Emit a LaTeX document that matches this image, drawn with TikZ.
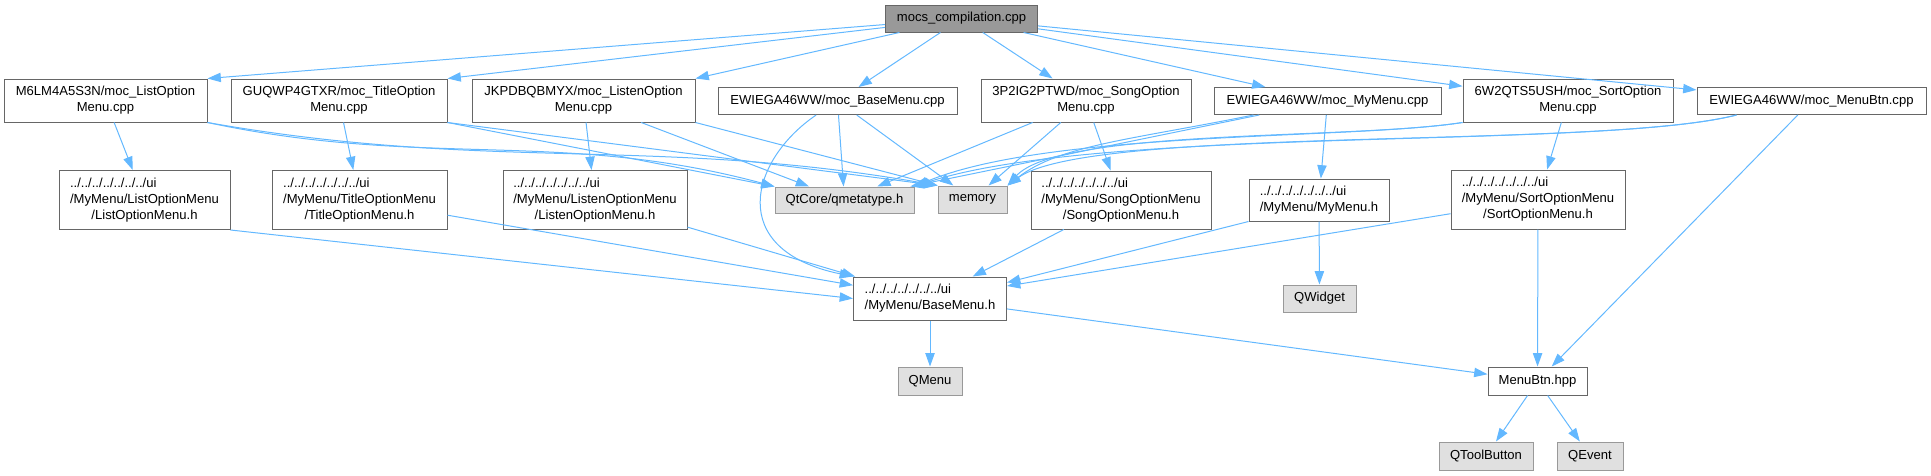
\documentclass[tikz,border=0pt]{standalone}
\usepackage{fontspec}
\setmainfont{Liberation Sans}
\usepackage{tikz}
\usetikzlibrary{arrows.meta}
\definecolor{edgeblue}{HTML}{63B8FF}
\definecolor{boxline}{HTML}{666666}
\definecolor{rootfill}{HTML}{999999}
\definecolor{extline}{HTML}{999999}
\definecolor{extfill}{HTML}{E0E0E0}
\newcommand{\hpath}[3]{\begin{tabular}{@{}l@{}}#1\\#2\\\multicolumn{1}{@{}c@{}}{#3}\end{tabular}}
\newcommand{\hpathshort}[2]{\begin{tabular}{@{}l@{}}#1\\\multicolumn{1}{@{}c@{}}{#2}\end{tabular}}

\begin{document}
\begin{tikzpicture}[
  x=0.75pt, y=0.75pt,
  every node/.style={font=\fontsize{9.8}{12}\selectfont, inner sep=0pt},
  wh/.style 2 args={minimum width=#1*0.75pt, minimum height=#2*0.75pt},
  file/.style={draw=boxline, fill=white, line width=0.75pt, align=center},
  ext/.style={draw=extline, fill=extfill, line width=0.75pt, align=center},
  root/.style={draw=boxline, fill=rootfill, line width=0.75pt, align=center},
  dep/.style={draw=edgeblue, line width=0.75pt, -{Triangle[length=10pt,width=7pt]}}
]
  \useasboundingbox (0,0) rectangle (1931,-475);

  \node[root, wh={152}{27}] (mocs) at (961.5,-18.5) {mocs\_compilation.cpp};

  \node[file, wh={203}{43}] (lcpp)  at (105.5,-100.5) {M6LM4A5S3N/moc\_ListOption\\Menu.cpp};
  \node[file, wh={216}{43}] (tcpp)  at (339,-100.5)   {GUQWP4GTXR/moc\_TitleOption\\Menu.cpp};
  \node[file, wh={223}{43}] (lncpp) at (583.5,-100.5) {JKPDBQBMYX/moc\_ListenOption\\Menu.cpp};
  \node[file, wh={239}{27}] (bcpp)  at (837.5,-101)   {EWIEGA46WW/moc\_BaseMenu.cpp};
  \node[file, wh={210}{43}] (scpp)  at (1086,-100.5)  {3P2IG2PTWD/moc\_SongOption\\Menu.cpp};
  \node[file, wh={227}{27}] (mcpp)  at (1327.5,-101)  {EWIEGA46WW/moc\_MyMenu.cpp};
  \node[file, wh={210}{43}] (socpp) at (1568,-100.5)  {6W2QTS5USH/moc\_SortOption\\Menu.cpp};
  \node[file, wh={229}{27}] (mbcpp) at (1811.5,-101)  {EWIEGA46WW/moc\_MenuBtn.cpp};

  \node[file, wh={171}{59}] (lh)  at (144.5,-200) {\hpath{../../../../../../../ui}{/MyMenu/ListOptionMenu}{/ListOptionMenu.h}};
  \node[file, wh={175}{59}] (th)  at (359.5,-200) {\hpath{../../../../../../../ui}{/MyMenu/TitleOptionMenu}{/TitleOptionMenu.h}};
  \node[file, wh={184}{59}] (lnh) at (595,-200)   {\hpath{../../../../../../../ui}{/MyMenu/ListenOptionMenu}{/ListenOptionMenu.h}};
  \node[ext, wh={139}{26}]  (qmeta) at (844.5,-200) {QtCore/qmetatype.h};
  \node[ext, wh={69}{27}]   (mem)   at (972.5,-199.5) {memory};
  \node[file, wh={180}{58}] (sh)  at (1121,-200)  {\hpath{../../../../../../../ui}{/MyMenu/SongOptionMenu}{/SongOptionMenu.h}};
  \node[file, wh={140}{42}] (myh) at (1319,-200)  {\hpathshort{../../../../../../../ui}{/MyMenu/MyMenu.h}};
  \node[file, wh={174}{59}] (soh) at (1538,-199.5) {\hpath{../../../../../../../ui}{/MyMenu/SortOptionMenu}{/SortOptionMenu.h}};

  \node[file, wh={153}{43}] (bh)      at (930,-298.5)    {\hpathshort{../../../../../../../ui}{/MyMenu/BaseMenu.h}};
  \node[ext, wh={73}{27}]   (qwidget) at (1319.5,-298.5) {QWidget};
  \node[ext, wh={64}{28}]   (qmenu)   at (930,-381)      {QMenu};
  \node[file, wh={99}{28}]  (mbh)     at (1537.5,-381)   {MenuBtn.hpp};
  \node[ext, wh={94}{28}]   (qtb)     at (1486,-456)     {QToolButton};
  \node[ext, wh={66}{28}]   (qevent)  at (1590,-456)     {QEvent};

  \draw[dep] (mocs) -- (lcpp.north east);
  \draw[dep] (mocs) -- (tcpp.north east);
  \draw[dep] (mocs) -- (lncpp.north east);
  \draw[dep] (mocs) -- (bcpp);
  \draw[dep] (mocs) -- (scpp);
  \draw[dep] (mocs) -- (mcpp);
  \draw[dep] (mocs) -- (socpp);
  \draw[dep] (mocs) -- (mbcpp);

  \draw[dep] (lcpp) -- (lh);
  \draw[dep] (lcpp.south east) to[out=-12,in=165] (qmeta.north west);
  \draw[dep] (lcpp.south east) to[out=-10,in=170] (mem.north west);
  \draw[dep] (tcpp) -- (th);
  \draw[dep] (tcpp.south east) -- (qmeta.north west);
  \draw[dep] (tcpp.south east) -- (mem.north west);
  \draw[dep] (lncpp) -- (lnh);
  \draw[dep] (lncpp) -- (qmeta);
  \draw[dep] (lncpp.south east) -- (mem.north west);
  \draw[dep] (bcpp) -- (qmeta);
  \draw[dep] (bcpp) -- (mem);
  \draw[dep] ([xshift=-16pt]bcpp.south) .. controls (750,-160) and (725,-250) .. (bh.north west);
  \draw[dep] (scpp) -- (qmeta);
  \draw[dep] (scpp) -- (mem);
  \draw[dep] (scpp) -- (sh);
  \draw[dep] (mcpp) -- (qmeta);
  \draw[dep] ([xshift=30pt]mcpp.south west) .. controls (1130,-140) and (1060,-145) .. (mem.north east);
  \draw[dep] (mcpp) -- (myh);
  \draw[dep] (socpp.south west) .. controls (1350,-140) and (1050,-130) .. (qmeta.north east);
  \draw[dep] (socpp.south west) .. controls (1350,-140) and (1060,-128) .. (mem.north east);
  \draw[dep] (socpp) -- (soh);
  \draw[dep] ([xshift=30pt]mbcpp.south west) .. controls (1600,-150) and (1100,-125) .. (qmeta.north east);
  \draw[dep] ([xshift=30pt]mbcpp.south west) .. controls (1600,-150) and (1090,-125) .. (mem.north east);
  \draw[dep] (mbcpp) -- (mbh);

  \draw[dep] (lh.south east) -- (bh.west);
  \draw[dep] (th) -- (bh);
  \draw[dep] (lnh) -- (bh);
  \draw[dep] (sh) -- (bh);
  \draw[dep] (myh.south west) -- ([yshift=12pt]bh.east);
  \draw[dep] (myh) -- (qwidget);
  \draw[dep] (soh) -- (bh);
  \draw[dep] (soh) -- (mbh);

  \draw[dep] (bh) -- (qmenu);
  \draw[dep] (bh) -- (mbh);
  \draw[dep] (mbh) -- (qtb);
  \draw[dep] (mbh) -- (qevent);
\end{tikzpicture}
\end{document}
